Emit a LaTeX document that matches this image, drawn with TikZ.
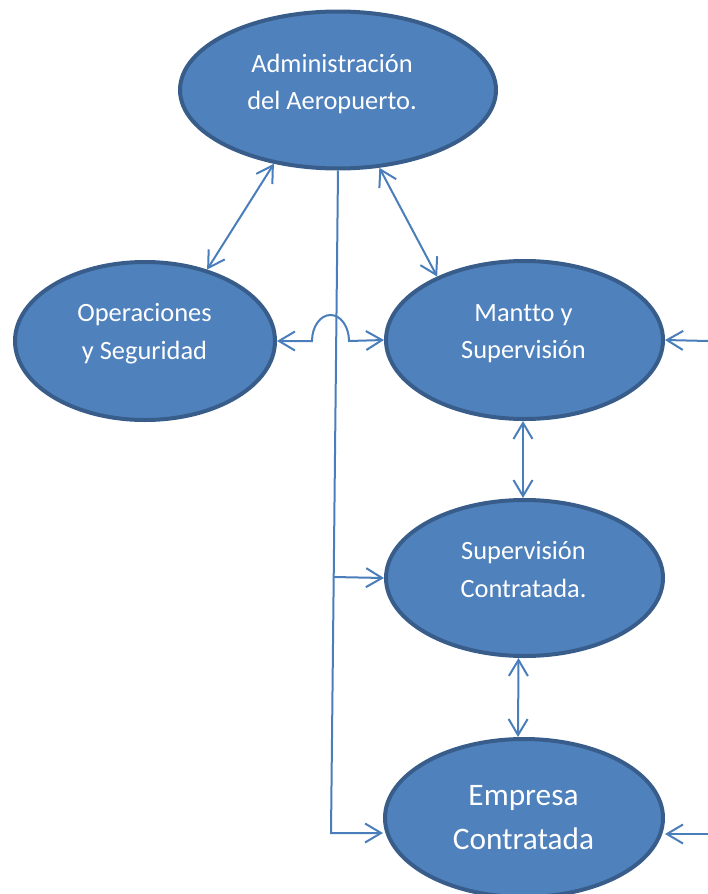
\documentclass[tikz,border=0pt]{standalone}
\usepackage{fontspec}
\setmainfont{Carlito}[Ligatures=NoCommon, Contextuals=NoAlternate]
\usetikzlibrary{shapes.geometric,arrows.meta}

\definecolor{blobfill}{HTML}{4F81BD}
\definecolor{blobedge}{HTML}{385D8A}
\definecolor{linkcol}{HTML}{4A7EBB}

\tikzset{
  blob/.style={ellipse, fill=blobfill, draw=blobedge, line width=4pt, inner sep=0pt},
  blobtext/.style={text=white, align=center, inner sep=0pt,
    font=\fontsize{26.4pt}{37.5pt}\selectfont},
  bigtext/.style={blobtext, font=\fontsize{31.3pt}{44pt}\selectfont},
  link/.style={draw=linkcol, line width=2pt,
    arrows={-Straight Barb[length=16pt, width=19pt]}},
  twoway/.style={link, arrows={Straight Barb[length=16pt, width=19pt]-Straight Barb[length=16pt, width=19pt]}}
}

\begin{document}
\begin{tikzpicture}[x=1pt, y=-1pt]
  \useasboundingbox (0,0) rectangle (708,894);

  % ellipses
  \node[blob, minimum width=316pt, minimum height=157pt] (admin)  at (338,90)    {};
  \node[blob, minimum width=260pt, minimum height=158pt] (ops)    at (145,341)   {};
  \node[blob, minimum width=277pt, minimum height=158pt] (mantto) at (524.5,340) {};
  \node[blob, minimum width=277pt, minimum height=156pt] (supc)   at (524.5,578) {};
  \node[blob, minimum width=278pt, minimum height=158pt] (emp)    at (524,818)   {};

  % labels (the kern keeps the two t's apart)
  \node[blobtext] (admin-t)  at (332,84)      {Administración\\del Aeropuerto.};
  \node[blobtext] (ops-t)    at (144.5,333.5) {Operaciones\\y Seguridad};
  \node[blobtext] (mantto-t) at (523.5,333.5) {Mant\kern0pt{}to y\\Supervisión};
  \node[blobtext] (supc-t)   at (523.5,569.5) {Supervisión\\Contratada.};
  \node[bigtext]  (emp-t)    at (523.5,818)   {Empresa\\Contratada};

  % free ends
  \coordinate (tk1) at (333.5,577);
  \coordinate (tk2) at (331,833);
  \coordinate (rm)  at (708,341);
  \coordinate (re)  at (708,834);

  % connectors
  \draw[twoway] (admin.-131) -- (ops.49);
  \draw[twoway] (admin.-62.5) -- (mantto.144.4);

  \draw[link] (admin.south) -- (tk2) -- (tk2 -| emp.west);
  \draw[link] (tk1) -- (supc.west);

  \draw[twoway] (ops.east) -- ++(35,0)
    arc[start angle=180, end angle=0, x radius=18.5pt, y radius=26pt]
    -- (mantto.west);

  \draw[twoway] ([xshift=-1.5pt]mantto.south) -- ([xshift=-1.5pt]supc.north);
  \draw[twoway] ([xshift=-6pt]supc.south) -- ([xshift=-6pt]emp.north);

  \draw[link] (rm) -- (mantto.east);
  \draw[link] (re) -- (re -| emp.east);
\end{tikzpicture}
\end{document}
